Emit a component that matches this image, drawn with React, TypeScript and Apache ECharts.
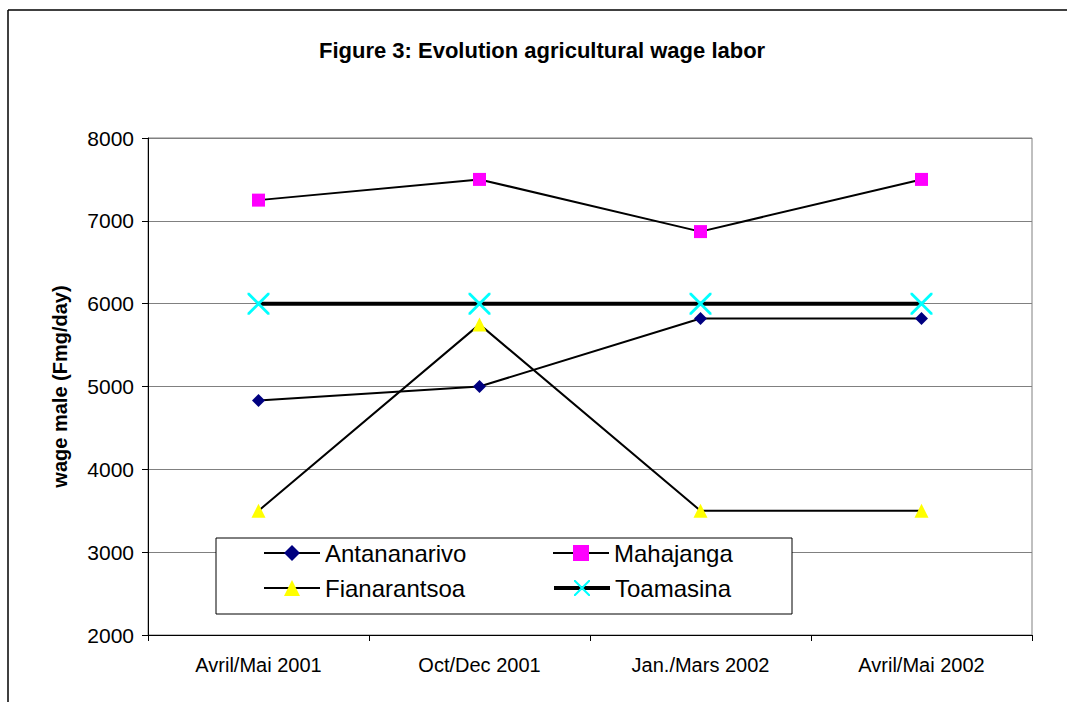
import React, { useEffect, useRef } from "react";
import * as echarts from "echarts";

const categories = ["Avril/Mai 2001", "Oct/Dec 2001", "Jan./Mars 2002", "Avril/Mai 2002"];
const antananarivo = [4830, 5000, 5820, 5820];
const mahajanga = [7250, 7500, 6870, 7500];
const fianarantsoa = [3500, 5750, 3500, 3500];
const toamasina = [6000, 6000, 6000, 6000];
const yMin = 2000;
const yMax = 8000;
const yStep = 1000;

const X_PATH =
  "path://M0,0 L2,0 L22,20 L22,22 L20,22 L0,2 Z M20,0 L22,0 L22,2 L2,22 L0,22 L0,20 Z";

export default function App() {
  const ref = useRef<HTMLDivElement>(null);
  useEffect(() => {
    if (!ref.current) return;
    const chart = echarts.init(ref.current, undefined, { renderer: "svg" });
    const font = "Arial, 'Liberation Sans', sans-serif";
    const legendCommon = {
      itemWidth: 56,
      itemHeight: 20,
      textStyle: { fontFamily: font, fontSize: 24, color: "#000" },
      z: 6,
      selectedMode: false as const,
      lineStyle: { width: 2 },
    };
    chart.setOption({
      animation: false,
      backgroundColor: "#fff",
      title: {
        text: "Figure 3: Evolution agricultural wage labor",
        left: 314,
        top: 34,
        textStyle: { fontFamily: font, fontSize: 22, fontWeight: "bold", color: "#000" },
      },
      grid: {
        left: 148,
        top: 138,
        right: 35,
        bottom: 67,
        show: true,
        borderColor: "#808080",
        borderWidth: 1,
        backgroundColor: "transparent",
      },
      xAxis: {
        type: "category",
        data: categories,
        boundaryGap: true,
        axisLine: { lineStyle: { color: "#000", width: 1 } },
        axisTick: { show: true, length: 6, lineStyle: { color: "#000" } },
        axisLabel: { fontFamily: font, fontSize: 20, color: "#000", margin: 20 },
        splitLine: { show: false },
      },
      yAxis: {
        type: "value",
        min: yMin,
        max: yMax,
        interval: yStep,
        name: "wage male (Fmg/day)",
        nameLocation: "middle",
        nameGap: 78,
        nameTextStyle: { fontFamily: font, fontSize: 20, fontWeight: "bold", color: "#000" },
        axisLine: { show: true, lineStyle: { color: "#000", width: 1 } },
        axisTick: { show: true, length: 6, lineStyle: { color: "#000" } },
        axisLabel: {
          fontFamily: font,
          fontSize: 21,
          color: "#000",
          margin: 14,
          formatter: (v: number) => String(v),
        },
        splitLine: { show: true, lineStyle: { color: "#808080", width: 1 } },
      },
      legend: [
        { ...legendCommon, data: ["Antananarivo"], left: 258, top: 536 },
        { ...legendCommon, data: ["Mahajanga"], left: 547, top: 536 },
        { ...legendCommon, data: ["Fianarantsoa"], left: 258, top: 571 },
        { ...legendCommon, data: ["Toamasina"], left: 547, top: 571, lineStyle: { width: 4 } },
      ],
      graphic: [
        {
          type: "rect",
          shape: { x: 216, y: 538, width: 576, height: 76 },
          style: { fill: "#fff", stroke: "#000", lineWidth: 1 },
          z: 5,
        },
        {
          type: "line",
          shape: { x1: 8, y1: 10, x2: 1067, y2: 10 },
          style: { stroke: "#000", lineWidth: 1.5 },
        },
        {
          type: "line",
          shape: { x1: 8, y1: 10, x2: 8, y2: 702 },
          style: { stroke: "#000", lineWidth: 1.5 },
        },
      ],
      series: [
        {
          name: "Antananarivo",
          type: "line",
          data: antananarivo,
          symbol: "diamond",
          symbolSize: 13,
          lineStyle: { color: "#000", width: 2 },
          itemStyle: { color: "#000080" },
          z: 3,
        },
        {
          name: "Mahajanga",
          type: "line",
          data: mahajanga,
          symbol: "rect",
          symbolSize: 13,
          lineStyle: { color: "#000", width: 2 },
          itemStyle: { color: "#FF00FF" },
          z: 3,
        },
        {
          name: "Fianarantsoa",
          type: "line",
          data: fianarantsoa,
          symbol: "triangle",
          symbolSize: 14,
          lineStyle: { color: "#000", width: 2 },
          itemStyle: { color: "#FFFF00" },
          z: 3,
        },
        {
          name: "Toamasina",
          type: "line",
          data: toamasina,
          symbol: X_PATH,
          symbolSize: 22,
          lineStyle: { color: "#000", width: 4 },
          itemStyle: { color: "#00FFFF" },
          z: 3,
        },
      ],
    });
    return () => chart.dispose();
  }, []);
  return (
    <div
      ref={ref}
      style={{ position: "absolute", left: 0, top: 0, width: 1067, height: 702 }}
    />
  );
}
